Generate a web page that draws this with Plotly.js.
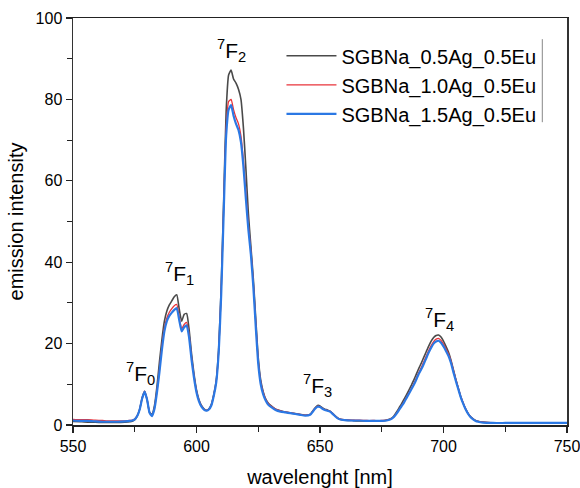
<!DOCTYPE html>
<html>
<head>
<meta charset="utf-8">
<script src="https://cdn.plot.ly/plotly-3.0.1.min.js"></script>
<style>html,body{margin:0;padding:0;background:#fff;overflow:hidden;}#chart{width:580px;height:488px;}</style>
</head>
<body>
<div id="chart"></div>
<script>
const wavelength = [550,553,556,559,562,565,568,571,573,
574,575,576,577,578,579,580,581,582,583,
584,585,586,587,588,589,590,591,592,593,
594,595,596,597,598,599,600,601,602,603,
604,605,606,607,608,609,610,611,612,613,
614,615,616,617,618,619,620,621,622,623,
624,625,626,627,628,629,630,
632,634,636,638,640,642,644,646,
647,648,649,650,651,652,653,654,655,656,657,658,
660,663,666,669,672,675,677,
679,680,681,682,683,684,685,686,687,688,
689,690,691,692,693,694,695,696,697,698,
699,700,701,702,703,704,705,706,707,708,
709,710,711,712,713,714,
716,720,725,730,735,740,745,750];

const s05Ag = [0.9,0.8,0.7,0.7,0.6,0.6,0.6,0.7,0.8,
0.9,1.3,2.2,3.9,6.7,8.3,6.2,3.1,2.6,4.8,
9.5,15.5,21.0,25.5,28.0,29.5,30.5,31.5,32.0,28.5,
25.5,27.2,27.4,23.5,17.5,12.5,8.6,6.2,4.8,4.0,
3.6,3.9,5.0,7.5,11.0,19.0,34.0,55.0,77.0,86.0,
87.2,85.0,84.0,82.5,80.0,73.0,63.0,52.0,44.0,36.0,
26.0,16.5,11.0,8.2,6.4,5.4,4.8,
3.9,3.5,3.2,3.0,2.8,2.6,2.4,2.6,
3.4,4.2,4.8,4.7,4.2,3.9,3.7,3.4,2.9,2.3,1.8,1.4,
1.2,1.1,1.0,1.0,1.0,1.0,1.2,
1.7,2.3,3.2,4.2,5.2,6.3,7.4,8.6,9.8,11.1,
12.5,13.9,15.2,16.6,18.0,19.4,20.6,21.5,22.0,22.1,
21.6,20.6,19.3,17.9,16.0,13.6,11.2,9.0,6.9,5.3,
3.9,2.8,2.0,1.5,1.1,0.9,
0.7,0.5,0.5,0.5,0.5,0.5,0.5,0.5];

const s10Ag = [1.4,1.3,1.3,1.2,1.1,1.0,1.0,1.0,1.1,
1.2,1.5,2.3,3.9,6.6,8.3,6.3,3.1,2.3,4.2,
8.4,13.6,19.3,23.8,26.3,27.7,28.6,29.3,29.6,26.5,
23.6,24.7,25.2,22.2,16.6,12.0,8.3,6.0,4.7,3.9,
3.6,3.9,5.0,7.4,10.8,18.5,33.0,53.5,73.0,79.5,
80.0,77.5,75.5,74.0,71.0,65.0,57.0,49.0,43.0,35.0,
25.0,15.8,10.6,8.0,6.3,5.3,4.7,
3.9,3.5,3.2,3.0,2.8,2.6,2.4,2.6,
3.3,4.1,4.6,4.5,4.1,3.8,3.6,3.4,2.9,2.3,1.8,1.5,
1.3,1.2,1.2,1.1,1.1,1.1,1.2,
1.6,2.1,2.9,3.8,4.7,5.7,6.8,7.9,9.0,10.2,
11.5,12.9,14.1,15.5,16.9,18.3,19.5,20.5,21.1,21.3,
20.8,19.9,18.7,17.5,15.8,13.5,11.2,9.1,7.0,5.4,
3.9,2.8,2.0,1.5,1.1,0.9,
0.7,0.6,0.6,0.6,0.6,0.6,0.6,0.6];

const s15Ag = [1.1,1.0,1.0,0.9,0.8,0.8,0.8,0.9,1.0,
1.1,1.4,2.2,3.8,6.5,8.2,6.2,3.0,2.2,4.0,
8.0,13.0,18.5,23.0,25.5,26.8,27.6,28.3,28.7,25.8,
23.0,24.0,24.5,21.5,16.0,11.5,8.0,5.8,4.5,3.8,
3.5,3.8,4.8,7.2,10.5,18.0,32.0,52.0,71.0,77.5,
78.6,76.0,74.0,72.5,69.5,63.5,55.5,48.0,42.0,34.0,
24.0,15.0,10.0,7.5,6.0,5.0,4.5,
3.7,3.3,3.1,2.9,2.7,2.5,2.3,2.5,
3.2,4.0,4.5,4.4,4.0,3.7,3.5,3.3,2.8,2.2,1.7,1.4,
1.2,1.1,1.1,1.0,1.0,1.0,1.1,
1.5,2.0,2.8,3.7,4.6,5.5,6.6,7.7,8.8,9.9,
11.2,12.6,13.7,15.0,16.4,17.8,19.0,20.0,20.5,20.7,
20.2,19.3,18.2,17.0,15.3,13.0,10.8,8.8,6.8,5.2,
3.8,2.7,1.9,1.4,1.0,0.8,
0.6,0.5,0.5,0.5,0.5,0.5,0.5,0.5];

const seriesNames = ['SGBNa_0.5Ag_0.5Eu','SGBNa_1.0Ag_0.5Eu','SGBNa_1.5Ag_0.5Eu'];
const seriesColors = ['#4a4a4a','#e8333a','#2b78e4'];
const seriesWidths = [1.6,1.3,2.2];

const peakLabels = ['<sup>7</sup>F<sub>0</sub>','<sup>7</sup>F<sub>1</sub>','<sup>7</sup>F<sub>2</sub>','<sup>7</sup>F<sub>3</sub>','<sup>7</sup>F<sub>4</sub>'];
const peakLabelX = [577.2, 593.3, 614.2, 648.9, 698.3];
const peakLabelY = [12.7, 37.3, 92.0, 9.8, 25.8];

const FONT = 'Liberation Sans, Arial, sans-serif';
const allY = [s05Ag, s10Ag, s15Ag];
const traces = allY.map((y, i) => ({
  x: wavelength, y: y, type: 'scatter', mode: 'lines',
  name: seriesNames[i],
  line: {color: seriesColors[i], width: seriesWidths[i], shape: 'spline', smoothing: 0.5}
}));

const annotations = peakLabels.map((t, i) => ({
  x: peakLabelX[i], y: peakLabelY[i], xref: 'x', yref: 'y',
  text: t, showarrow: false, font: {family: FONT, size: 21, color: '#000'}
}));

const layout = {
  width: 580, height: 488,
  margin: {l: 73, r: 13, t: 18, b: 63},
  paper_bgcolor: '#fff', plot_bgcolor: '#fff',
  font: {family: FONT, color: '#000'},
  showlegend: true,
  legend: {x: 0.422, y: 0.955, xanchor: 'left', yanchor: 'top',
    font: {family: FONT, size: 20, color: '#000'}, itemwidth: 50,
    bgcolor: 'rgba(0,0,0,0)', borderwidth: 0, tracegroupgap: 0},
  xaxis: {
    range: [550, 750], dtick: 50, tick0: 550,
    showgrid: false, zeroline: false,
    showline: true, linecolor: '#222', linewidth: 1.5, mirror: true,
    ticks: 'outside', ticklen: 6, tickwidth: 1.2, tickcolor: '#222',
    ticklabeloverflow: 'allow',
    tickfont: {family: FONT, size: 16, color: '#000'},
    minor: {dtick: 25, ticks: 'outside', ticklen: 5, tickwidth: 1.2, tickcolor: '#222', showgrid: false},
    title: {text: 'wavelenght [nm]', font: {family: FONT, size: 20, color: '#000'}, standoff: 23}
  },
  yaxis: {
    range: [0, 100], dtick: 20, tick0: 0,
    showgrid: false, zeroline: false,
    showline: true, linecolor: '#333', linewidth: 1.5, mirror: true,
    ticks: 'outside', ticklen: 6, tickwidth: 1.2, tickcolor: '#222',
    tickfont: {family: FONT, size: 16, color: '#000'},
    minor: {dtick: 10, ticks: 'outside', ticklen: 5, tickwidth: 1.2, tickcolor: '#222', showgrid: false},
    title: {text: 'emission intensity', font: {family: FONT, size: 20, color: '#000'}, standoff: 6}
  },
  annotations: annotations,
  shapes: [{type: 'line', xref: 'paper', yref: 'paper', x0: 0.950, x1: 0.950, y0: 0.744, y1: 0.948,
    line: {color: '#888', width: 1}}]
};

Plotly.newPlot('chart', traces, layout, {displayModeBar: false, staticPlot: true});
</script>
</body>
</html>
